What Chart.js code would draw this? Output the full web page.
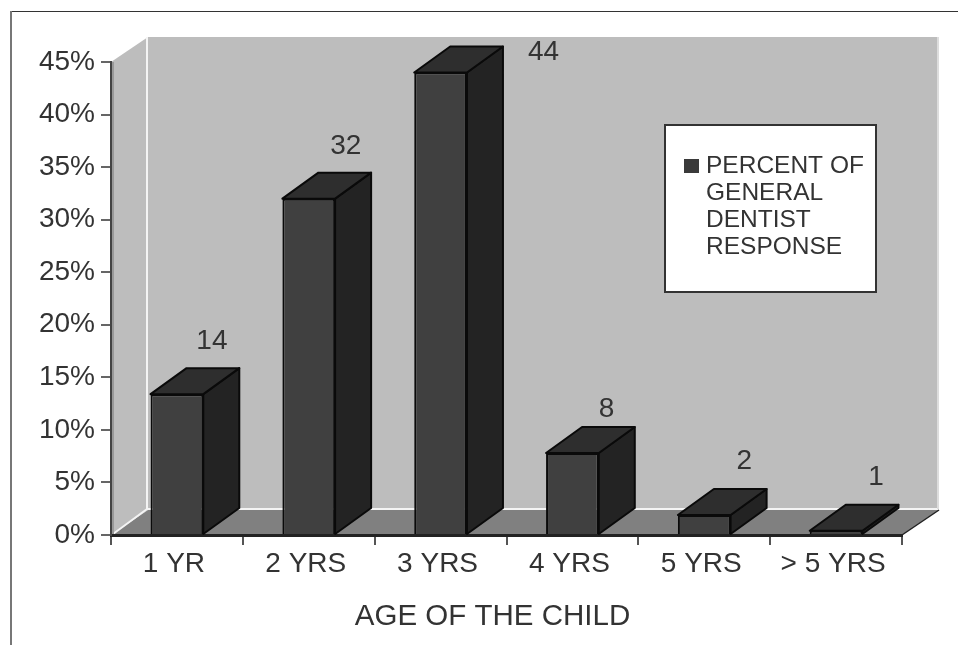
<!DOCTYPE html>
<html>
<head>
<meta charset="utf-8">
<title>Age of the child</title>
<script src="https://cdn.jsdelivr.net/npm/chart.js@4"></script>
<style>
  html, body { margin: 0; padding: 0; background: #fff; }
  /* the reference is a soft scan */
  canvas { display: block; filter: blur(0.5px); }
</style>
</head>
<body>
<canvas id="ageChart" width="958" height="646"></canvas>
<script>
const ageLabels = ['1 YR', '2 YRS', '3 YRS', '4 YRS', '5 YRS', '> 5 YRS'];
// bar heights, printed numbers are kept apart
const barHeights = [13.4, 32, 44, 7.8, 1.9, 0.4];
const printedValues = ['14', '32', '44', '8', '2', '1'];
const legendLines = ['PERCENT OF', 'GENERAL', 'DENTIST', 'RESPONSE'];
const axisTitle = 'AGE OF THE CHILD';

const ageCtx = document.getElementById('ageChart').getContext('2d');
const fontFamily = '"Liberation Sans", Arial, sans-serif';
const textColor = '#333333';
const depthX = 37;
const depthY = -25;
const barDepthX = 36;
const barDepthY = -26;

function fillShape(ctx, points, fill, stroke, lineWidth) {
  ctx.beginPath();
  points.forEach((p, i) => (i ? ctx.lineTo(p[0], p[1]) : ctx.moveTo(p[0], p[1])));
  ctx.closePath();
  if (fill) {
    ctx.fillStyle = fill;
    ctx.fill();
  }
  if (stroke) {
    ctx.strokeStyle = stroke;
    ctx.lineWidth = lineWidth || 1;
    ctx.stroke();
  }
}

//  Page frame, back wall, side wall and floor, behind the axes
const roomPlugin = {
  id: 'room',
  beforeDraw(chart) {
    const ctx = chart.ctx;
    const { left, right, top, bottom } = chart.chartArea;
    const wallRight = right + depthX - 2;
    ctx.save();
    ctx.fillStyle = '#333333';
    ctx.fillRect(10, 11, 948, 1);
    ctx.fillStyle = '#777777';
    ctx.fillRect(10, 11, 2, 634);

    fillShape(ctx, [[left + depthX, top + depthY], [wallRight, top + depthY], [wallRight, bottom + depthY], [left + depthX, bottom + depthY]], '#bdbdbd');
    fillShape(ctx, [[left, top], [left + depthX, top + depthY], [left + depthX, bottom + depthY], [left, bottom]], '#bdbdbd');
    fillShape(ctx, [[left, bottom], [left + depthX, bottom + depthY], [right + depthX, bottom + depthY], [right, bottom]], '#808080');

    // light edges of the walls
    ctx.strokeStyle = '#f4f4f4';
    ctx.lineWidth = 2;
    ctx.beginPath();
    ctx.moveTo(left + depthX - 1, top + depthY);
    ctx.lineTo(left + depthX - 1, bottom + depthY - 1);
    ctx.lineTo(wallRight + 2, bottom + depthY - 1);
    ctx.moveTo(left + depthX - 1, bottom + depthY - 1);
    ctx.lineTo(left + 2, bottom - 1);
    ctx.stroke();
    ctx.strokeStyle = '#dddddd';
    ctx.beginPath();
    ctx.moveTo(wallRight + 1, top + depthY);
    ctx.lineTo(wallRight + 1, bottom + depthY - 1);
    ctx.stroke();

    ctx.fillStyle = '#999999';
    ctx.fillRect(left, top, 3, bottom - top);
    ctx.strokeStyle = '#222222';
    ctx.lineWidth = 1.5;
    ctx.beginPath();
    ctx.moveTo(right, bottom);
    ctx.lineTo(right + depthX, bottom + depthY);
    ctx.stroke();
    ctx.restore();
  },

  //  Top and side faces of each bar, taken from the bar elements
  beforeDatasetsDraw(chart) {
    const ctx = chart.ctx;
    ctx.save();
    ctx.lineJoin = 'round';
    chart.getDatasetMeta(0).data.forEach((bar) => {
      const half = bar.width / 2;
      const x0 = bar.x - half;
      const x1 = bar.x + half;
      fillShape(ctx, [[x1, bar.y], [x1 + barDepthX, bar.y + barDepthY], [x1 + barDepthX, bar.base + barDepthY], [x1, bar.base]], '#232323', '#0a0a0a', 2);
      fillShape(ctx, [[x0, bar.y], [x0 + barDepthX, bar.y + barDepthY], [x1 + barDepthX, bar.y + barDepthY], [x1, bar.y]], '#2e2e2e', '#0a0a0a', 2);
    });
    ctx.restore();
  },

  //  Printed numbers, axis title and the legend box, on top of everything
  afterDraw(chart) {
    const ctx = chart.ctx;
    const labelShift = [[35, -53], [37, -52], [103, -20], [34, -44], [40, -54], [40, -54]];
    ctx.save();
    ctx.font = '28px ' + fontFamily;
    ctx.fillStyle = textColor;
    ctx.textAlign = 'center';
    ctx.textBaseline = 'middle';
    chart.getDatasetMeta(0).data.forEach((bar, i) => {
      ctx.fillText(printedValues[i], bar.x + labelShift[i][0], bar.y + labelShift[i][1]);
    });

    ctx.font = '29.5px ' + fontFamily;
    ctx.fillText(axisTitle, (chart.chartArea.left + chart.chartArea.right) / 2 - 14, 617);

    ctx.fillStyle = '#ffffff';
    ctx.fillRect(665, 125, 211, 167);
    ctx.strokeStyle = '#333333';
    ctx.lineWidth = 2;
    ctx.strokeRect(665, 125, 211, 167);
    ctx.fillStyle = '#3a3a3a';
    ctx.fillRect(684, 159, 15, 14);
    ctx.font = '24.5px ' + fontFamily;
    ctx.fillStyle = textColor;
    ctx.textAlign = 'left';
    legendLines.forEach((line, i) => {
      ctx.fillText(line, 706, 166 + i * 27);
    });
    ctx.restore();
  }
};

let responseChart = new Chart(ageCtx, {
  type: 'bar',
  data: {
    labels: ageLabels,
    datasets: [{
      label: legendLines.join(' '),
      data: barHeights,
      backgroundColor: '#404040',
      borderColor: '#0a0a0a',
      borderWidth: 2,
      barPercentage: 0.4,
      categoryPercentage: 1
    }]
  },
  options: {
    responsive: false,
    animation: false,
    layout: { padding: { top: 62, right: 56, left: 0, bottom: 0 } },
    plugins: {
      legend: { display: false },
      tooltip: { enabled: false }
    },
    scales: {
      x: {
        afterFit(scale) { scale.height = 111; },
        grid: { drawOnChartArea: false, tickLength: 10, color: '#555555', lineWidth: 2 },
        border: { color: '#222222', width: 3 },
        ticks: { font: { family: fontFamily, size: 28 }, color: textColor, padding: 2, labelOffset: -3 },
      },
      y: {
        min: 0,
        max: 45,
        afterFit(scale) { scale.width = 111; },
        grid: { drawOnChartArea: false, tickLength: 10, color: '#666666', lineWidth: 2 },
        border: { color: '#444444', width: 2 },
        ticks: {
          stepSize: 5,
          font: { family: fontFamily, size: 28 },
          color: textColor,
          padding: 6,
          callback: (value) => value + '%'
        }
      }
    }
  },
  plugins: [roomPlugin]
});
</script>
</body>
</html>
